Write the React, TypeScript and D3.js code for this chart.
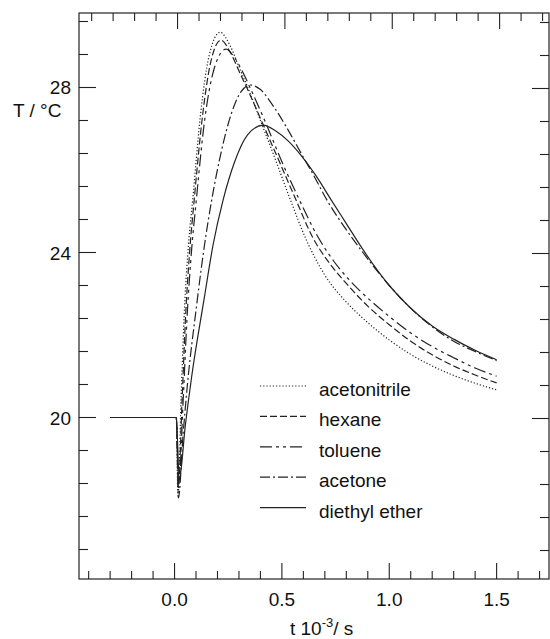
import React from 'react';
import * as d3 from 'd3';

const W = 550;
const H = 639;

const seriesNames = ['acetonitrile', 'hexane', 'toluene', 'acetone', 'diethyl ether'];

const acetonitrile: [number, number][] = [
  [-0.30, 20], [0.008, 20], [0.016, 18.1], [0.03, 20.4], [0.045, 22.5], [0.065, 24.2], [0.085, 25.3],
  [0.12, 27.3], [0.16, 28.75], [0.212, 29.34], [0.26, 29.0], [0.30, 28.5], [0.345, 27.95], [0.40, 27.2],
  [0.47, 26.25], [0.54, 25.27], [0.61, 24.35], [0.70, 23.45], [0.80, 22.8], [0.90, 22.3], [1.0, 21.88],
  [1.1, 21.53], [1.2, 21.25], [1.3, 21.02], [1.4, 20.83], [1.5, 20.67],
];

const hexane: [number, number][] = [
  [-0.30, 20], [0.008, 20], [0.018, 18.3], [0.035, 20.4], [0.05, 22.3], [0.07, 24.0], [0.092, 25.3],
  [0.13, 27.3], [0.17, 28.65], [0.216, 29.15], [0.26, 28.85], [0.30, 28.4], [0.345, 27.9], [0.40, 27.25],
  [0.48, 26.3], [0.566, 25.27], [0.64, 24.4], [0.72, 23.75], [0.80, 23.25], [0.90, 22.7], [1.0, 22.25],
  [1.1, 21.85], [1.2, 21.52], [1.3, 21.25], [1.4, 21.03], [1.5, 20.84],
];

const toluene: [number, number][] = [
  [-0.30, 20], [0.008, 20], [0.02, 18.4], [0.04, 20.4], [0.058, 22.4], [0.08, 24.1], [0.10, 25.2],
  [0.14, 27.2], [0.19, 28.55], [0.24, 28.93], [0.28, 28.72], [0.32, 28.35], [0.36, 27.9], [0.42, 27.2],
  [0.50, 26.2], [0.582, 25.27], [0.66, 24.45], [0.74, 23.8], [0.82, 23.3], [0.92, 22.8], [1.0, 22.45],
  [1.1, 22.05], [1.2, 21.72], [1.3, 21.45], [1.4, 21.2], [1.5, 21.0],
];

const acetone: [number, number][] = [
  [-0.30, 20], [0.008, 20], [0.018, 18.05], [0.04, 19.6], [0.06, 20.8], [0.10, 22.6], [0.14, 24.2],
  [0.173, 25.27], [0.22, 26.5], [0.27, 27.45], [0.31, 27.9], [0.352, 28.06], [0.40, 27.95], [0.46, 27.55],
  [0.52, 27.05], [0.59, 26.4], [0.65, 25.85], [0.71, 25.27], [0.80, 24.55], [0.87, 24.05], [1.0, 23.2],
  [1.1, 22.65], [1.2, 22.2], [1.3, 21.85], [1.4, 21.6], [1.5, 21.38],
];

const diethylEther: [number, number][] = [
  [-0.30, 20], [0.008, 20], [0.022, 18.5], [0.05, 19.8], [0.08, 21.0], [0.137, 22.85], [0.18, 24.2],
  [0.226, 25.27], [0.28, 26.2], [0.34, 26.85], [0.413, 27.09], [0.47, 26.95], [0.53, 26.7], [0.59, 26.35],
  [0.66, 25.85], [0.73, 25.27], [0.80, 24.7], [0.88, 24.05], [1.0, 23.2], [1.1, 22.65], [1.2, 22.22],
  [1.3, 21.9], [1.4, 21.63], [1.5, 21.4],
];

const seriesData = [acetonitrile, hexane, toluene, acetone, diethylEther];
const dashStyles = ['1.2,2', '7,3', '12,4,3,4,3,4', '10,3,2,3', 'none'];

const xMajorTicks = [0, 0.5, 1.0, 1.5];
const xTickLabels = ['0.0', '0.5', '1.0', '1.5'];
const yMajorTicks = [20, 24, 28];
const yTickLabels = ['20', '24', '28'];

const FONT = '"Liberation Sans", Arial, sans-serif';

export default function App() {
  const left = 79, right = 549, top = 13, bottom = 579;
  const x = d3.scaleLinear().domain([-0.445, 1.744]).range([left, right]);
  const y = d3.scaleLinear().domain([16.085, 29.806]).range([bottom, top]);

  const xMinor = d3.range(-4, 18).map((k) => k / 10);
  const yMinor = d3.range(0, 17).map((k) => 16.8 + k * 0.8).filter((v) => v < 29.8);

  const line = d3
    .line<[number, number]>()
    .x((d) => x(d[0]))
    .y((d) => y(d[1]))
    .curve(d3.curveMonotoneX);

  const isMajorX = (v: number) => xMajorTicks.some((m) => Math.abs(m - v) < 1e-6);
  const isMajorY = (v: number) => yMajorTicks.some((m) => Math.abs(m - v) < 1e-6);

  const legendX0 = 260, legendX1 = 306, legendY0 = 386, legendStep = 30.4;

  return (
    <svg
      width={W}
      height={H}
      style={{ position: 'absolute', left: 0, top: 0, background: '#fff' }}
      fontFamily={FONT}
    >
      <rect x={0} y={0} width={W} height={H} fill="#fff" />
      {/* frame */}
      <rect x={left} y={top} width={right - left} height={bottom - top} fill="none" stroke="#222" strokeWidth={1.2} />

      {/* x ticks bottom and top */}
      {xMinor.map((v, i) => {
        const len = isMajorX(v) ? 16 : 8;
        const px = x(v);
        return (
          <g key={'xt' + i} stroke="#222" strokeWidth={1.1}>
            <line x1={px} x2={px} y1={bottom} y2={bottom - len} />
            <line x1={px + 3} x2={px + 3} y1={top} y2={top + len} />
          </g>
        );
      })}
      {/* y ticks left and right */}
      {yMinor.map((v, i) => {
        const len = isMajorY(v) ? 17 : 9;
        const py = y(v);
        return (
          <g key={'yt' + i} stroke="#222" strokeWidth={1.1}>
            <line x1={left} x2={left + len} y1={py} y2={py} />
            <line x1={right} x2={right - len} y1={py + 1} y2={py + 1} />
          </g>
        );
      })}

      {/* tick labels */}
      {xMajorTicks.map((v, i) => (
        <text key={'xl' + i} x={x(v)} y={606} textAnchor="middle" fontSize={19} fill="#111">
          {xTickLabels[i]}
        </text>
      ))}
      {yMajorTicks.map((v, i) => (
        <text key={'yl' + i} x={71} y={y(v) + 7} textAnchor="end" fontSize={19} fill="#111">
          {yTickLabels[i]}
        </text>
      ))}

      {/* axis titles */}
      <text x={13} y={117} fontSize={19} fill="#111">T / °C</text>
      <text x={290} y={635} fontSize={19} fill="#111">
        t 10
        <tspan dy={-8} fontSize={13}>-3</tspan>
        <tspan dy={8}>/ s</tspan>
      </text>

      {/* curves */}
      {seriesData.map((d, i) => (
        <path
          key={'s' + i}
          d={line(d) || ''}
          fill="none"
          stroke="#222"
          strokeWidth={1.2}
          strokeDasharray={dashStyles[i]}
        />
      ))}

      {/* legend */}
      {seriesNames.map((name, i) => {
        const ly = legendY0 + i * legendStep;
        return (
          <g key={'lg' + i}>
            <line x1={legendX0} x2={legendX1} y1={ly} y2={ly} stroke="#222" strokeWidth={1.2} strokeDasharray={dashStyles[i]} />
            <text x={319} y={ly + 10} fontSize={19} fill="#111">
              {name}
            </text>
          </g>
        );
      })}
    </svg>
  );
}
